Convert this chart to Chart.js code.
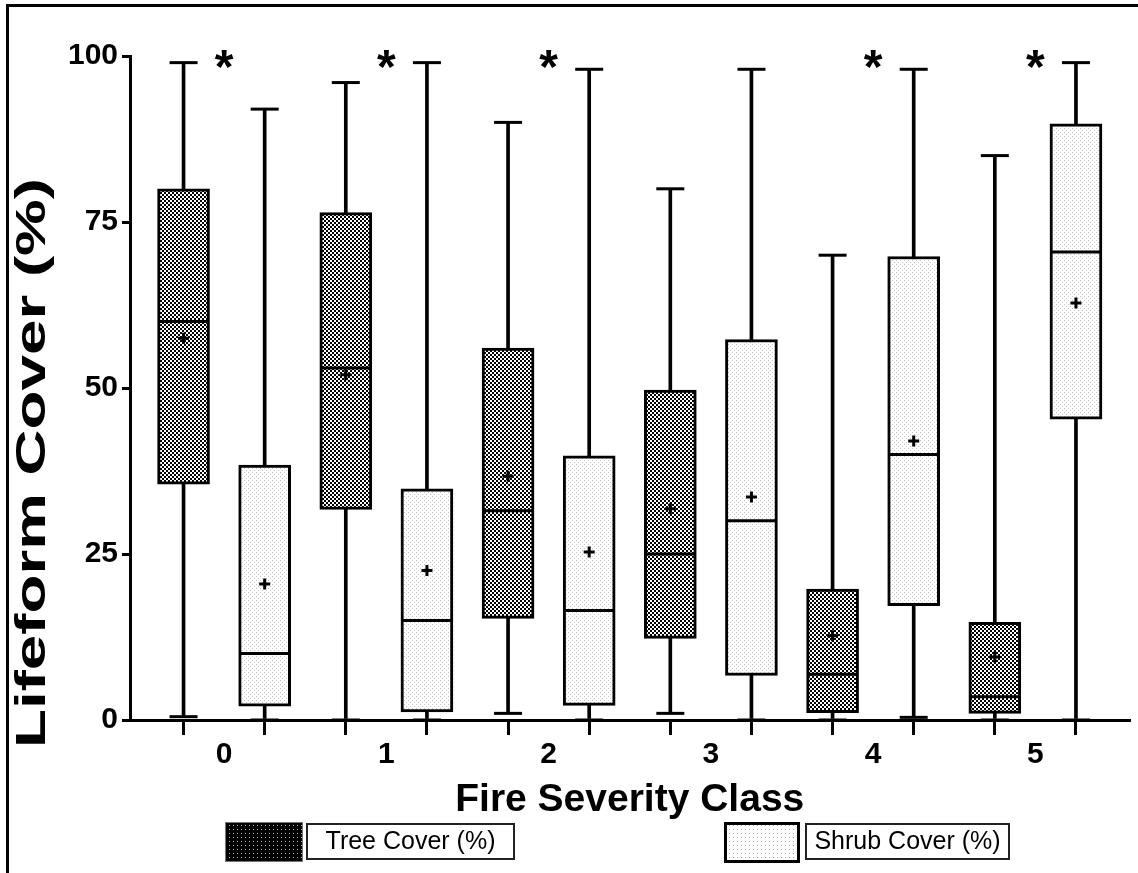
<!DOCTYPE html>
<html>
<head>
<meta charset="utf-8">
<script src="https://cdn.jsdelivr.net/npm/chart.js@4.4.0/dist/chart.umd.min.js"></script>
<style>
  html, body { margin: 0; padding: 0; background: #fff; }
  #wrap { width: 1138px; height: 873px; }
</style>
</head>
<body>
<div id="wrap"><canvas id="chart" width="1138" height="873"></canvas></div>
<script>
/* Lifeform cover by fire severity class - box plots */
const classes = ['0', '1', '2', '3', '4', '5'];

// Tree cover (%)
const treeMin    = [0.5, 0, 1, 1, 0, 0];
const treeQ1     = [35.5, 31.7, 15.3, 12.3, 1.1, 1.0];
const treeMedian = [60, 53, 31.5, 25, 6.9, 3.5];
const treeQ3     = [80, 76.4, 56, 49.7, 19.7, 14.7];
const treeMax    = [99, 96, 90, 80, 70, 85];
const treeMean   = [57.5, 52, 36.7, 31.8, 12.7, 9.5];

// Shrub cover (%)
const shrubMin    = [0, 0, 0, 0, 0.4, 0];
const shrubQ1     = [2.1, 1.2, 2.2, 6.7, 17.2, 45.3];
const shrubMedian = [10, 15, 16.5, 30, 40, 70.5];
const shrubQ3     = [38.4, 34.8, 39.8, 57.3, 69.8, 89.8];
const shrubMax    = [92, 99, 98, 98, 98, 99];
const shrubMean   = [20.5, 22.5, 25.3, 33.6, 42, 62.8];

// classes with a significant tree/shrub difference
const significant = [true, true, true, false, true, true];
const starLevel = 99.3;
const yTicks = [0, 25, 50, 75, 100];
const yTitle = 'Lifeform Cover (%)';

const FONT = '"Liberation Sans", Arial, sans-serif';
const canvas = document.getElementById('chart');
const ctx = canvas.getContext('2d');

function makePattern(size, bg, fg, dots) {
    const tile = document.createElement('canvas');
    tile.width = tile.height = size;
    const g = tile.getContext('2d');
    g.fillStyle = bg;
    g.fillRect(0, 0, size, size);
    g.fillStyle = fg;
    dots.forEach(d => g.fillRect(d[0], d[1], d[2], d[3]));
    return ctx.createPattern(tile, 'repeat');
}

const treeFill = makePattern(4, '#fff', '#000', [[0, 0, 2, 2], [2, 2, 2, 2]]);
const shrubFill = makePattern(4, '#fff', '#c4c4c4', [[0, 0, 1, 1], [2, 2, 1, 1]]);
const treeSwatch = makePattern(4, '#000', '#bbb', [[1, 1, 1, 1]]);
const shrubSwatch = makePattern(4, '#fff', '#aaa', [[1, 1, 1, 1]]);

const treeX = classes.map((c, i) => i - 0.25);
const shrubX = classes.map((c, i) => i + 0.25);

const isLabelTick = c => !!(c && c.tick && Number.isInteger(c.tick.value));

const boxExtras = {
    id: 'boxExtras',
    afterDatasetsDraw(chart) {
        const { ctx, scales: { y } } = chart;
        const line = (x1, y1, x2, y2) => {
            ctx.beginPath(); ctx.moveTo(x1, y1); ctx.lineTo(x2, y2); ctx.stroke();
        };
        ctx.save();
        ctx.strokeStyle = '#000';
        ctx.lineWidth = 3;
        [[0, 2, treeMin, treeMax, treeMedian], [1, 3, shrubMin, shrubMax, shrubMedian]]
            .forEach(([wi, bi, mins, maxs, meds]) => {
                const whiskers = chart.getDatasetMeta(wi).data;
                const boxes = chart.getDatasetMeta(bi).data;
                whiskers.forEach((el, i) => {
                    [mins[i], maxs[i]].forEach(v => {
                        const py = y.getPixelForValue(v);
                        line(el.x - 14, py, el.x + 14, py);
                    });
                    const b = boxes[i];
                    const half = b.width / 2;
                    const pm = y.getPixelForValue(meds[i]);
                    line(b.x - half + 1, pm, b.x + half - 1, pm);
                });
            });
        ctx.restore();
    },
    afterDraw(chart) {
        const { ctx, scales: { x, y } } = chart;
        ctx.save();
        // significance stars
        ctx.fillStyle = '#000';
        ctx.font = 'bold 48px ' + FONT;
        ctx.textAlign = 'center';
        ctx.textBaseline = 'alphabetic';
        significant.forEach((s, i) => {
            if (!s) return;
            ctx.fillText('*', x.getPixelForValue(i), y.getPixelForValue(starLevel) + 22);
        });

        // y axis title, drawn tall and narrow like the original
        ctx.save();
        ctx.font = 'bold 42px ' + FONT;
        ctx.textAlign = 'center';
        ctx.textBaseline = 'middle';
        const stretch = 570 / ctx.measureText(yTitle).width;
        ctx.translate(33, 463);
        ctx.rotate(-Math.PI / 2);
        ctx.scale(stretch, 1);
        ctx.fillText(yTitle, 0, 0);
        ctx.restore();

        // legend
        const items = [
            { label: chart.data.datasets[2].label, sw: [225, 822, 78, 40], box: [306, 823, 209, 37], fill: treeSwatch, swLine: 1, swColor: '#777' },
            { label: chart.data.datasets[3].label, sw: [724, 822, 76, 41], box: [805, 823, 205, 37], fill: shrubSwatch, swLine: 3, swColor: '#000' }
        ];
        items.forEach(it => {
            ctx.fillStyle = it.fill;
            ctx.fillRect(it.sw[0], it.sw[1], it.sw[2], it.sw[3]);
            ctx.lineWidth = it.swLine;
            ctx.strokeStyle = it.swColor;
            ctx.strokeRect(it.sw[0] + it.swLine / 2, it.sw[1] + it.swLine / 2, it.sw[2] - it.swLine, it.sw[3] - it.swLine);
            ctx.lineWidth = 2;
            ctx.strokeStyle = '#222';
            ctx.strokeRect(it.box[0] + 1, it.box[1] + 1, it.box[2] - 2, it.box[3] - 2);
            ctx.fillStyle = '#000';
            ctx.font = '25px ' + FONT;
            ctx.textAlign = 'center';
            ctx.textBaseline = 'middle';
            ctx.fillText(it.label, it.box[0] + it.box[2] / 2, it.box[1] + it.box[3] / 2 + 1);
        });

        // outer frame
        ctx.lineWidth = 3;
        ctx.strokeStyle = '#000';
        ctx.strokeRect(7.5, 5.5, 1300, 1000);
        ctx.restore();
    }
};

const barCommon = { type: 'bar', grouped: false, borderSkipped: false };

new Chart(ctx, {
    type: 'bar',
    data: {
        datasets: [
            { ...barCommon, label: 'tree whisker', order: 5, barThickness: 3, backgroundColor: '#000', borderWidth: 0,
              data: treeX.map((xv, i) => ({ x: xv, y: [treeMin[i], treeMax[i]] })) },
            { ...barCommon, label: 'shrub whisker', order: 4, barThickness: 3, backgroundColor: '#000', borderWidth: 0,
              data: shrubX.map((xv, i) => ({ x: xv, y: [shrubMin[i], shrubMax[i]] })) },
            { ...barCommon, label: 'Tree Cover (%)', order: 3, barThickness: 52, backgroundColor: treeFill,
              borderColor: '#000', borderWidth: 3,
              data: treeX.map((xv, i) => ({ x: xv, y: [treeQ1[i], treeQ3[i]] })) },
            { ...barCommon, label: 'Shrub Cover (%)', order: 2, barThickness: 52, backgroundColor: shrubFill,
              borderColor: '#000', borderWidth: 3,
              data: shrubX.map((xv, i) => ({ x: xv, y: [shrubQ1[i], shrubQ3[i]] })) },
            { type: 'scatter', label: 'tree mean', order: 1, pointStyle: 'cross', radius: 5.5, borderWidth: 3,
              borderColor: '#000', data: treeX.map((xv, i) => ({ x: xv, y: treeMean[i] })) },
            { type: 'scatter', label: 'shrub mean', order: 0, pointStyle: 'cross', radius: 5.5, borderWidth: 3,
              borderColor: '#000', data: shrubX.map((xv, i) => ({ x: xv, y: shrubMean[i] })) }
        ]
    },
    options: {
        responsive: false,
        animation: false,
        layout: { padding: { left: 0, right: 8, top: 56, bottom: 48 } },
        plugins: { legend: { display: false }, tooltip: { enabled: false } },
        scales: {
            x: {
                type: 'linear',
                offset: false,
                min: -0.58,
                max: 5.58,
                afterBuildTicks: scale => {
                    const t = [];
                    classes.forEach((c, i) => {
                        t.push({ value: i - 0.25 }, { value: i }, { value: i + 0.25 });
                    });
                    scale.ticks = t;
                },
                afterFit: scale => { scale.height = 105; },
                border: { display: true, color: '#000', width: 3 },
                grid: {
                    offset: false,
                    drawOnChartArea: false,
                    tickLength: 15,
                    lineWidth: 3,
                    color: c => isLabelTick(c) ? 'rgba(0,0,0,0)' : '#000'
                },
                ticks: {
                    autoSkip: false,
                    maxRotation: 0,
                    padding: 2,
                    color: '#000',
                    font: { family: FONT, size: 30, weight: 'bold' },
                    callback: v => Number.isInteger(v) ? classes[v] : ''
                },
                title: {
                    display: true,
                    text: 'Fire Severity Class',
                    color: '#000',
                    font: { family: FONT, size: 39, weight: 'bold' },
                    padding: { top: 0, bottom: 1 }
                }
            },
            y: {
                min: 0,
                max: 100,
                afterBuildTicks: scale => { scale.ticks = yTicks.map(v => ({ value: v })); },
                afterFit: scale => { scale.width = 130; },
                border: { display: true, color: '#000', width: 3 },
                grid: { drawOnChartArea: false, tickLength: 8, lineWidth: 3, color: '#000' },
                ticks: {
                    padding: 4,
                    color: '#000',
                    font: { family: FONT, size: 30, weight: 'bold' }
                }
            }
        }
    },
    plugins: [boxExtras]
});
</script>
</body>
</html>
